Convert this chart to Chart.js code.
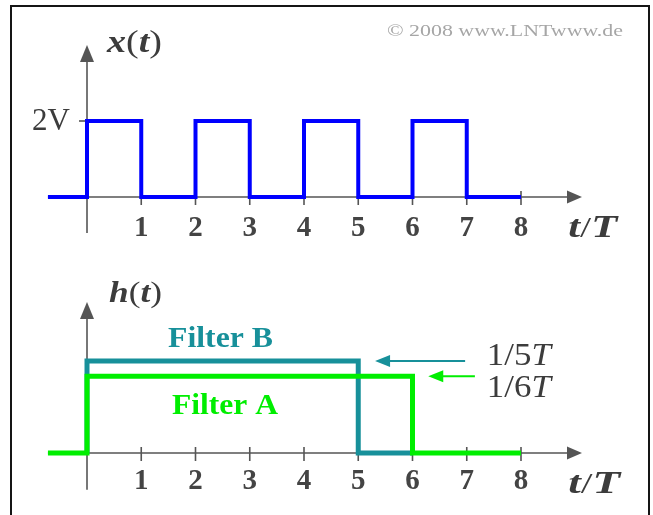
<!DOCTYPE html>
<html>
<head>
<meta charset="utf-8">
<script src="https://cdn.jsdelivr.net/npm/chart.js@4.4.0/dist/chart.umd.min.js"></script>
<style>
  html, body { margin: 0; padding: 0; background: #fff; }
  #wrap { position: relative; width: 653px; height: 515px; overflow: hidden; background: #fff; }
  #frame { position: absolute; left: 10px; top: 5px; width: 636px; height: 540px; border: 2px solid #151515; }
  canvas { position: absolute; left: 0; top: 0; }
</style>
</head>
<body>
<div id="wrap">
  <div id="frame"></div>
  <canvas id="signalChart" width="653" height="515"></canvas>
  <canvas id="responseChart" width="653" height="515"></canvas>
</div>
<script>
// Time axis, in units of T
const tickValues = [1, 2, 3, 4, 5, 6, 7, 8];
const tickLabels = ['1', '2', '3', '4', '5', '6', '7', '8'];

// Rectangular input signal x(t): vertices of a step-before line
const inputTimes  = [-0.72, 0, 1, 2, 3, 4, 5, 6, 7, 8];
const inputLevels = [0, 2, 0, 2, 0, 2, 0, 2, 0, 0];
const inputAmplitude = 2;
const inputAmplitudeLabel = '2V';

// Impulse responses h(t), heights in units of 1/T
const filterATimes  = [-0.72, 0, 6, 8];
const filterALevels = [0, 1 / 6, 0, 0];
const filterBTimes  = [0, 0, 5, 6];
const filterBLevels = [0, 1 / 5, 0, 0];
const filterAHeightLabel = ['1/6', 'T'];
const filterBHeightLabel = ['1/5', 'T'];

const toPoints = (xs, ys) => xs.map((t, i) => ({ x: t, y: ys[i] }));

const AXIS = '#555555';
const TEXT = '#3c3c3c';
const BLUE = '#0000ff';
const TEAL = '#17909a';
const GREEN = '#00ee00';
const SERIF = '"Liberation Serif", "DejaVu Serif", serif';

// Draws text runs with mixed fonts, optionally squeezed/stretched to a width
function drawRuns(ctx, parts, x, y, width, color, align) {
  ctx.save();
  let total = 0;
  parts.forEach(p => { ctx.font = p.font; p.w = ctx.measureText(p.text).width; total += p.w; });
  const sx = width ? width / total : 1;
  let left = x;
  if (align === 'center') left = x - total * sx / 2;
  if (align === 'right') left = x - total * sx;
  ctx.translate(left, y);
  ctx.scale(sx, 1);
  ctx.fillStyle = color;
  ctx.textAlign = 'left';
  ctx.textBaseline = 'alphabetic';
  let cx = 0;
  parts.forEach(p => { ctx.font = p.font; ctx.fillText(p.text, cx, 0); cx += p.w; });
  ctx.restore();
}

function segment(ctx, x1, y1, x2, y2) {
  ctx.beginPath(); ctx.moveTo(x1, y1); ctx.lineTo(x2, y2); ctx.stroke();
}

// Filled arrow head; (dx, dy) = unit vector pointing to the tip
function arrowHead(ctx, tx, ty, dx, dy, len, half, color) {
  const bx = tx - dx * len, by = ty - dy * len;
  ctx.save();
  ctx.fillStyle = color;
  ctx.beginPath();
  ctx.moveTo(tx, ty);
  ctx.lineTo(bx - dy * half, by + dx * half);
  ctx.lineTo(bx + dy * half, by - dx * half);
  ctx.closePath();
  ctx.fill();
  ctx.restore();
}

const fontNum = 'bold 29px ' + SERIF;
const fontBI = (s) => 'italic bold ' + s + 'px ' + SERIF;
const fontN = (s) => s + 'px ' + SERIF;

// Axis lines with arrows, tick marks and tick labels, drawn under the curves
function makeAxes(cfg) {
  return {
    id: 'axes_' + cfg.name,
    beforeDatasetsDraw(chart) {
      const { ctx, scales: { x, y } } = chart;
      const x0 = x.getPixelForValue(0), y0 = y.getPixelForValue(0);
      ctx.save();
      ctx.strokeStyle = AXIS;
      ctx.lineWidth = 1.6;
      // horizontal time axis
      const xStart = x.getPixelForValue(cfg.xFrom);
      const xTip = x.getPixelForValue(cfg.xArrowTo);
      segment(ctx, xStart, y0, xTip - 10, y0);
      arrowHead(ctx, xTip, y0, 1, 0, 15, 6.5, AXIS);
      // vertical axis
      const yBottom = y.getPixelForValue(cfg.yFrom);
      const yTip = y.getPixelForValue(cfg.yArrowTo);
      segment(ctx, x0, yBottom, x0, yTip + 10);
      arrowHead(ctx, x0, yTip, 0, -1, 17, 7, AXIS);
      // tick marks on the time axis
      tickValues.forEach(v => {
        const px = x.getPixelForValue(v);
        segment(ctx, px, y0 - 6, px, y0 + 8);
      });
      if (cfg.yTick !== undefined) {
        const py = y.getPixelForValue(cfg.yTick);
        segment(ctx, x0 - 8, py, x0, py);
      }
      ctx.restore();
      // tick labels
      tickValues.forEach((v, i) => {
        drawRuns(ctx, [{ text: tickLabels[i], font: fontNum }],
          x.getPixelForValue(v), y0 + cfg.tickLabelDy, 0, '#444444', 'center');
      });
      // t/T axis title
      drawRuns(ctx, [
        { text: 't', font: fontBI(32) },
        { text: '/', font: fontN(30) },
        { text: 'T', font: fontBI(32) }
      ], x.getPixelForValue(cfg.axisTitleAt), y0 + 40, cfg.axisTitleWidth, TEXT, 'left');
    },
    afterDatasetsDraw(chart) {
      cfg.decorate(chart);
    }
  };
}

function baseOptions(pad, xr, yr) {
  return {
    responsive: false,
    animation: false,
    events: [],
    layout: { padding: pad },
    plugins: { legend: { display: false }, tooltip: { enabled: false } },
    scales: {
      x: { type: 'linear', min: xr[0], max: xr[1], display: false },
      y: { type: 'linear', min: yr[0], max: yr[1], display: false }
    }
  };
}

const lineStyle = (color, width) => ({
  borderColor: color, borderWidth: width, pointRadius: 0, fill: false,
  stepped: 'before', tension: 0, borderCapStyle: 'butt', borderJoinStyle: 'miter'
});

// ---- upper chart: input signal x(t) ----
new Chart(document.getElementById('signalChart'), {
  type: 'line',
  data: {
    datasets: [Object.assign({ data: toPoints(inputTimes, inputLevels) }, lineStyle(BLUE, 4))]
  },
  options: baseOptions({ left: 32.75, right: 66.9, top: 37.4, bottom: 280 }, [-1, 9.2], [-1, 4.2]),
  plugins: [makeAxes({
    name: 'signal', xFrom: inputTimes[0], xArrowTo: 9.124, yFrom: -0.95, yArrowTo: 4.0,
    yTick: inputAmplitude, tickLabelDy: 39, axisTitleAt: 8.87, axisTitleWidth: 49,
    decorate(chart) {
      const { ctx, scales: { x, y } } = chart;
      const x0 = x.getPixelForValue(0), y0 = y.getPixelForValue(0);
      drawRuns(ctx, [
        { text: 'x', font: fontBI(32) }, { text: '(', font: fontN(32) },
        { text: 't', font: fontBI(32) }, { text: ')', font: fontN(32) }
      ], x0 + 20, y0 - 145, 55, TEXT, 'left');
      drawRuns(ctx, [{ text: inputAmplitudeLabel, font: fontN(31) }],
        x0 - 17, y.getPixelForValue(inputAmplitude) + 9, 38, TEXT, 'right');
      drawRuns(ctx, [{ text: '\u00a9 2008 www.LNTwww.de', font: fontN(17) }],
        387, 36, 236, '#a6a6a6', 'left');
    }
  })]
});

// ---- lower chart: impulse responses h(t) ----
new Chart(document.getElementById('responseChart'), {
  type: 'line',
  data: {
    datasets: [
      Object.assign({ label: 'Filter A', data: toPoints(filterATimes, filterALevels) }, lineStyle(GREEN, 5)),
      Object.assign({ label: 'Filter B', data: toPoints(filterBTimes, filterBLevels) }, lineStyle(TEAL, 5))
    ]
  },
  options: baseOptions({ left: 32.75, right: 66.9, top: 296.6, bottom: 20.6 }, [-1, 9.2], [-0.09, 0.34]),
  plugins: [makeAxes({
    name: 'response', xFrom: filterATimes[0], xArrowTo: 9.124, yFrom: -0.08, yArrowTo: 0.328,
    tickLabelDy: 36, axisTitleAt: 8.87, axisTitleWidth: 52,
    decorate(chart) {
      const { ctx, scales: { x, y } } = chart;
      const x0 = x.getPixelForValue(0), y0 = y.getPixelForValue(0);
      drawRuns(ctx, [
        { text: 'h', font: fontBI(30) }, { text: '(', font: fontN(30) },
        { text: 't', font: fontBI(30) }, { text: ')', font: fontN(30) }
      ], x0 + 22, y0 - 151, 53, TEXT, 'left');
      drawRuns(ctx, [{ text: 'Filter B', font: 'bold 30px ' + SERIF }], 168, 347, 105, TEAL, 'left');
      drawRuns(ctx, [{ text: 'Filter A', font: 'bold 30px ' + SERIF }], 172, 414, 106, GREEN, 'left');

      // arrows pointing at the two heights
      const yB = y.getPixelForValue(filterBLevels[1]);
      const yA = y.getPixelForValue(filterALevels[1]);
      ctx.save();
      ctx.lineWidth = 2;
      ctx.strokeStyle = TEAL;
      segment(ctx, x.getPixelForValue(6.97), yB, x.getPixelForValue(5.31) + 10, yB);
      arrowHead(ctx, x.getPixelForValue(5.31), yB, -1, 0, 15, 6, TEAL);
      ctx.strokeStyle = GREEN;
      segment(ctx, x.getPixelForValue(7.15), yA, x.getPixelForValue(6.29) + 10, yA);
      arrowHead(ctx, x.getPixelForValue(6.29), yA, -1, 0, 15, 6, GREEN);
      ctx.restore();

      const lx = x.getPixelForValue(7.37);
      drawRuns(ctx, [
        { text: filterBHeightLabel[0], font: fontN(31) },
        { text: filterBHeightLabel[1], font: 'italic 31px ' + SERIF }
      ], lx, yB + 4, 64, TEXT, 'left');
      drawRuns(ctx, [
        { text: filterAHeightLabel[0], font: fontN(31) },
        { text: filterAHeightLabel[1], font: 'italic 31px ' + SERIF }
      ], lx, yA + 21, 64, TEXT, 'left');
    }
  })]
});
</script>
</body>
</html>
